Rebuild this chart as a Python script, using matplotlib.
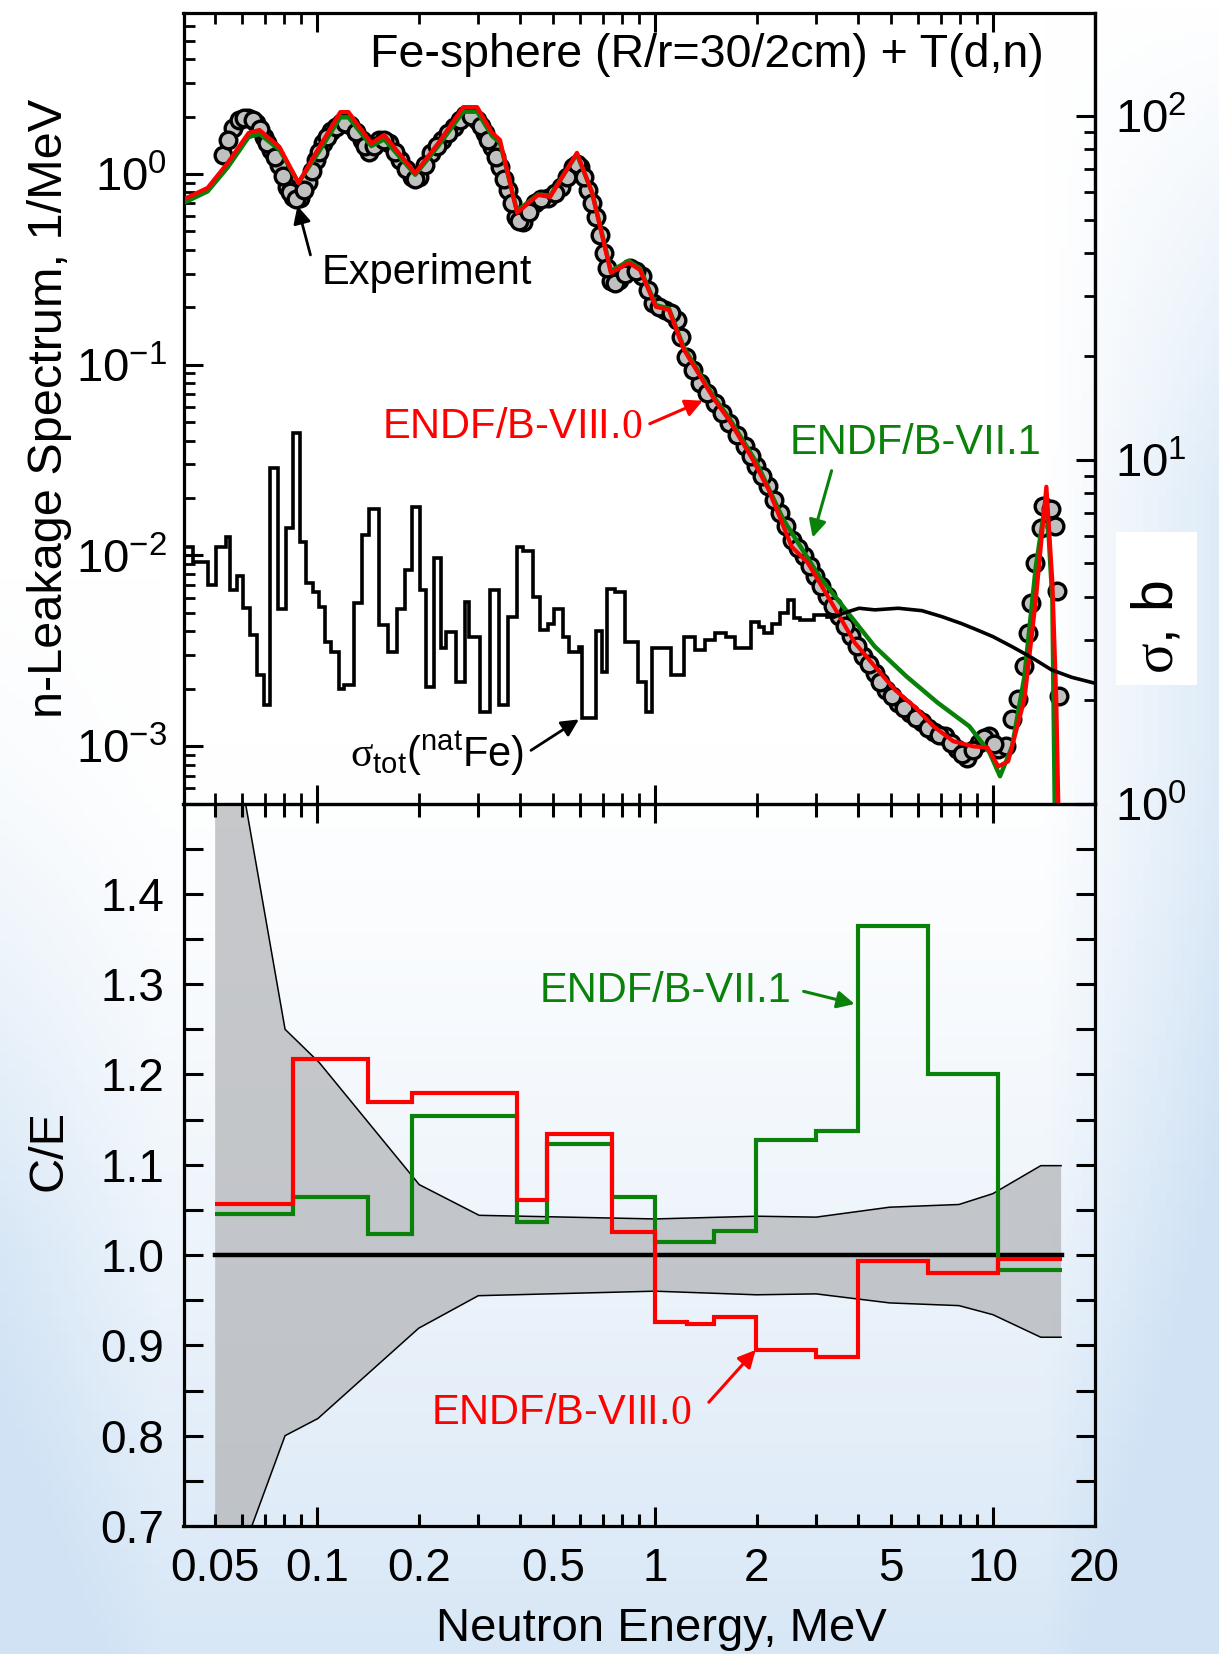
import numpy as np
import matplotlib
matplotlib.use('Agg')
import matplotlib.pyplot as plt
from matplotlib.patches import Rectangle
from matplotlib.ticker import LogLocator, MultipleLocator, FixedLocator, NullFormatter, FuncFormatter

plt.rcParams['font.family'] = ['Liberation Sans', 'DejaVu Sans']
plt.rcParams['mathtext.fontset'] = 'custom'
plt.rcParams['mathtext.rm'] = 'Liberation Serif'
plt.rcParams['mathtext.sf'] = 'Liberation Sans'
plt.rcParams['mathtext.it'] = 'Liberation Sans:italic'
plt.rcParams['mathtext.default'] = 'sf'
plt.rcParams['axes.unicode_minus'] = False

# ---- experiment (n-leakage spectrum, 1/MeV)
exp_e = [0.0529, 0.0565, 0.0587, 0.0627, 0.0662, 0.0696, 0.0733, 0.0772, 0.0814, 0.0847,
         0.0893, 0.0941, 0.0991, 0.1042, 0.1100, 0.1178, 0.1251, 0.1356, 0.1429, 0.1526,
         0.1632, 0.1767, 0.1906, 0.2007, 0.2178, 0.2353, 0.2544, 0.2750, 0.2970, 0.3133,
         0.3304, 0.3483, 0.3674, 0.3875, 0.4075, 0.4406, 0.4824, 0.5285, 0.5714, 0.6024,
         0.6347, 0.6689, 0.7048, 0.7427, 0.7826, 0.8466, 0.9159, 0.9905, 1.072, 1.159,
         1.237, 1.356, 1.506, 1.656, 1.846, 1.998, 2.165, 2.349, 2.544, 2.756,
         2.986, 3.240, 3.509, 3.804, 4.121, 4.465, 4.841, 5.244, 5.683, 6.162,
         6.677, 7.234, 7.848, 8.381, 9.092, 9.718, 10.39, 10.96, 11.41, 11.86,
         12.35, 12.69, 13.01, 13.37, 13.91, 14.10, 14.89, 15.29, 15.51, 15.73]
exp_v = [1.26, 1.74, 1.92, 1.96, 1.84, 1.57, 1.34, 1.11, 0.858, 0.760,
         0.746, 0.912, 1.18, 1.45, 1.67, 1.84, 1.81, 1.51, 1.31, 1.51,
         1.45, 1.18, 0.968, 0.968, 1.28, 1.51, 1.77, 2.04, 1.92, 1.63,
         1.39, 1.09, 0.824, 0.597, 0.562, 0.702, 0.746, 0.858, 1.09, 1.09,
         0.824, 0.597, 0.384, 0.273, 0.278, 0.321, 0.290, 0.210, 0.194, 0.172,
         0.110, 0.080, 0.063, 0.0494, 0.0373, 0.0293, 0.0230, 0.0167, 0.0121, 0.00989,
         0.00777, 0.00611, 0.00480, 0.00377, 0.00296, 0.00242, 0.00198, 0.00169, 0.00150, 0.00133,
         0.00118, 0.00113, 0.000962, 0.000870, 0.00104, 0.00113, 0.000962, 0.00100, 0.00138, 0.00176,
         0.00262, 0.00392, 0.00563, 0.00913, 0.0139, 0.0181, 0.0174, 0.0142, 0.00649, 0.00183]
# further experimental points lying between the ones above
exp2_e = [0.0547, 0.0607, 0.0645, 0.0679, 0.0714, 0.0752, 0.0793, 0.0830, 0.0870, 0.0917,
          0.0966, 0.1016, 0.1071, 0.1139, 0.1214, 0.1302, 0.1392, 0.1477, 0.1578, 0.1698,
          0.1835, 0.1955, 0.2091, 0.2264, 0.2447, 0.2645, 0.2858, 0.3050, 0.3217, 0.3392,
          0.3577, 0.3773, 0.3974, 0.4237, 0.4610, 0.5049, 0.5495, 0.5867, 0.6183, 0.6516,
          0.6866, 0.7235, 0.7624, 0.8140, 0.8806, 0.9525, 1.030, 1.115, 1.197, 1.295,
          1.429, 1.579, 1.749, 1.920, 2.080, 2.255, 2.444, 2.648, 2.869, 3.110,
          3.372, 3.654, 3.959, 4.290, 4.649, 5.038, 5.459, 5.918, 6.414, 6.950,
          7.535, 8.110, 8.729, 9.400, 10.05]
exp2_v = [1.50, 1.97, 1.92, 1.72, 1.45, 1.22, 0.98, 0.80, 0.74, 0.82,
          1.04, 1.31, 1.57, 1.77, 1.86, 1.66, 1.40, 1.40, 1.50, 1.31,
          1.06, 0.94, 1.11, 1.40, 1.64, 1.92, 2.02, 1.78, 1.50, 1.23,
          0.94, 0.70, 0.565, 0.63, 0.735, 0.79, 0.96, 1.13, 0.96, 0.70,
          0.48, 0.32, 0.268, 0.300, 0.310, 0.245, 0.200, 0.186, 0.140, 0.094,
          0.071, 0.056, 0.0430, 0.0330, 0.0260, 0.0196, 0.0142, 0.0109, 0.00880, 0.00690,
          0.00540, 0.00425, 0.00333, 0.00268, 0.00218, 0.00183, 0.00159, 0.00141, 0.00125, 0.00115,
          0.00104, 0.00091, 0.00095, 0.00110, 0.00103]

# ---- ENDF/B-VIII.0 calculation
viii_e = [0.040, 0.0475, 0.0544, 0.0628, 0.0676, 0.0775, 0.0882, 0.1017, 0.1173, 0.124,
          0.1449, 0.1582, 0.1954, 0.2285, 0.271, 0.298, 0.330, 0.348, 0.391, 0.451,
          0.490, 0.588, 0.652, 0.741, 0.838, 0.903, 1.007, 1.10, 1.218, 1.50,
          1.654, 1.948, 2.17, 2.54, 2.83, 3.16, 3.52, 3.90, 4.47, 5.12,
          5.86, 6.67, 7.64, 8.76, 9.63, 10.38, 11.1, 12.4, 13.4, 14.4,
          15.0, 15.4, 15.9]
viii_v = [0.731, 0.845, 1.14, 1.64, 1.70, 1.385, 0.897, 1.385, 2.11, 2.11,
          1.45, 1.60, 1.01, 1.45, 2.24, 2.24, 1.64, 1.51, 0.625, 0.776,
          0.758, 1.29, 0.795, 0.303, 0.342, 0.314, 0.201, 0.194, 0.120, 0.0655,
          0.0515, 0.0318, 0.0221, 0.0111, 0.00917, 0.00662, 0.00478, 0.00349, 0.00262, 0.00198,
          0.00161, 0.00127, 0.00106, 0.000996, 0.000984, 0.000783, 0.000832, 0.00176, 0.00586, 0.0229,
          0.0072, 0.00176, 0.0001]

# ---- ENDF/B-VII.1 calculation
vii_e = [0.040, 0.0475, 0.0544, 0.0628, 0.0676, 0.0775, 0.0882, 0.1017, 0.1173, 0.124,
         0.1449, 0.1582, 0.1954, 0.2285, 0.271, 0.298, 0.330, 0.348, 0.391, 0.451,
         0.490, 0.588, 0.652, 0.741, 0.838, 0.903, 1.007, 1.10, 1.218, 1.50,
         1.654, 2.00, 2.40, 3.07, 3.72, 4.47, 5.55, 6.86, 8.52, 9.77,
         10.5, 11.4, 12.4, 13.4, 14.4, 15.0, 15.4]
vii_v = [0.70, 0.81, 1.08, 1.56, 1.62, 1.34, 0.90, 1.32, 1.98, 1.98,
         1.40, 1.52, 0.99, 1.40, 2.12, 2.12, 1.58, 1.46, 0.64, 0.78,
         0.77, 1.27, 0.80, 0.31, 0.35, 0.32, 0.205, 0.197, 0.123, 0.067,
         0.053, 0.0306, 0.0154, 0.00774, 0.00502, 0.00333, 0.00232, 0.00169, 0.00127, 0.000927,
         0.000695, 0.000996, 0.00232, 0.00874, 0.0203, 0.00586, 0.0001]

# ---- total cross section of natFe (b), group histogram + smooth part
sig_edges = [0.0404, 0.0429, 0.0476, 0.0504, 0.0540, 0.0555, 0.0580, 0.0603, 0.0635, 0.0666,
             0.0696, 0.0728, 0.0767, 0.0808, 0.0847, 0.0893, 0.0928, 0.0971, 0.1012, 0.1058,
             0.1100, 0.1159, 0.1206, 0.1287, 0.1356, 0.1429, 0.1526, 0.1621, 0.1726, 0.1818,
             0.1906, 0.2019, 0.2104, 0.2218, 0.2337, 0.2412, 0.2574, 0.2750, 0.2822, 0.3036,
             0.3259, 0.3459, 0.3665, 0.3914, 0.4068, 0.4346, 0.4579, 0.4824, 0.5017, 0.5355,
             0.5569, 0.5945, 0.6105, 0.6689, 0.6956, 0.7240, 0.7628, 0.8143, 0.8920, 0.9399,
             0.9779, 1.114, 1.221, 1.315, 1.410, 1.506, 1.628, 1.725, 1.920, 2.026,
             2.110, 2.225, 2.349, 2.476, 2.579, 2.685, 2.950, 3.239, 3.419]
sig_levels = [5.59, 5.05, 4.32, 5.59, 5.95, 4.18, 4.60, 3.70, 3.09, 2.37,
              1.93, 9.45, 3.67, 6.32, 12.0, 5.78, 4.37, 4.13, 3.72, 2.96,
              2.76, 2.16, 2.21, 3.82, 6.04, 7.18, 3.31, 2.76, 3.67, 4.78,
              7.31, 4.18, 2.19, 5.17, 2.83, 3.16, 2.26, 3.87, 3.06, 1.85,
              4.18, 1.93, 3.50, 5.59, 5.44, 4.00, 3.20, 3.33, 3.67, 3.06,
              2.76, 2.86, 1.77, 3.18, 2.42, 4.20, 4.13, 2.96, 2.26, 1.85,
              2.83, 2.37, 3.06, 2.80, 2.99, 3.13, 3.06, 2.83, 3.38, 3.27,
              3.13, 3.34, 3.58, 3.91, 3.46, 3.42, 3.53, 3.50]
sig_smooth_e = [3.419, 3.61, 4.02, 4.47, 5.25, 6.17, 7.05, 8.07, 8.98, 10.0, 11.4, 13.1, 14.9, 17.1, 20.0]
sig_smooth_v = [3.50, 3.58, 3.70, 3.66, 3.70, 3.64, 3.50, 3.34, 3.20, 3.06, 2.86, 2.65, 2.45, 2.33, 2.24]

# ---- C/E group ratios
ce_edges = [0.05, 0.0848, 0.1413, 0.191, 0.392, 0.481, 0.748, 1.0, 1.248, 1.497, 1.994, 3.0, 4.0, 6.44, 10.38, 16.03]
ce_viii = [1.056, 1.217, 1.170, 1.180, 1.061, 1.134, 1.025, 0.926, 0.924, 0.931, 0.895, 0.8875, 0.993, 0.980, 0.996]
ce_vii = [1.045, 1.064, 1.023, 1.154, 1.037, 1.123, 1.064, 1.015, 1.015, 1.027, 1.127, 1.137, 1.364, 1.200, 0.983]

# experimental uncertainty band
band_hi_e = [0.05, 0.0615, 0.0805, 0.1017, 0.2008, 0.302, 1.0, 2.0, 3.0, 4.95, 7.94, 10.0, 13.86, 15.92]
band_hi = [1.69, 1.50, 1.25, 1.213, 1.078, 1.044, 1.040, 1.043, 1.042, 1.053, 1.056, 1.068, 1.099, 1.099]
band_lo_e = [0.05, 0.0642, 0.0805, 0.1007, 0.2001, 0.3003, 1.0, 2.0, 3.0, 4.95, 7.94, 10.0, 13.86, 15.92]
band_lo = [0.59, 0.70, 0.80, 0.819, 0.919, 0.955, 0.960, 0.956, 0.957, 0.947, 0.944, 0.934, 0.909, 0.909]

RED = '#ff0000'
GREEN = '#0a820a'
FS = 30      # annotations
TFS = 33     # tick labels
LFS = 35     # axis labels

fig = plt.figure(figsize=(12.19, 16.54), dpi=100)

# soft blue background like the slide
bg = fig.add_axes([0, 0, 1, 1], zorder=-5)
yy, xx = np.mgrid[0:1:220j, 0:1:160j]
w = 0.85 * np.clip((yy - 0.45) / 0.55, 0, 1) ** 1.3
w += 0.7 * np.clip((xx - 0.86) / 0.14, 0, 1) * np.clip(yy / 0.3, 0, 1)
w += 0.45 * np.clip((0.13 - xx) / 0.13, 0, 1) * np.clip((yy - 0.35) / 0.4, 0, 1)
w = np.clip(w, 0, 1)[..., None]
blue = np.array([0.82, 0.89, 0.96])
bg.imshow((1 - w) * 1.0 + w * blue, aspect='auto', extent=[0, 1, 0, 1])
bg.axis('off')

L, R = 183.5 / 1219, 1094.6 / 1219
ax1 = fig.add_axes([L, 0.5142, R - L, 0.4781])
ax2 = fig.add_axes([L, 0.0774, R - L, 0.4368], sharex=ax1)
for a in (ax1, ax2):
    a.set_facecolor('none')
    for s in a.spines.values():
        s.set_linewidth(2.3)

# ---------------- top panel
ax1.set_xscale('log')
ax1.set_yscale('log')
ax1.set_xlim(0.0403, 20)
ax1.set_ylim(5.0e-4, 7.0)

ax1.plot(exp_e + exp2_e, exp_v + exp2_v, 'o', ms=12, mfc='#c0c0c0', mec='black', mew=2.4, zorder=2)
ax1.plot(vii_e, vii_v, color=GREEN, lw=3.2, zorder=3)
ax1.plot(viii_e, viii_v, color=RED, lw=3.0, zorder=4)

ax1r = ax1.twinx()
ax1r.set_yscale('log')
ax1r.set_ylim(1, 200)
ax1r.stairs(sig_levels, sig_edges, color='black', lw=2.6, baseline=None)
ax1r.plot(sig_smooth_e, sig_smooth_v, color='black', lw=2.6)
ax1r.spines['right'].set_linewidth(2.3)

for a in (ax1, ax1r):
    a.tick_params(which='major', direction='in', length=14, width=2.2, labelsize=TFS + 1)
    a.tick_params(which='minor', direction='in', length=8, width=2.0)
ax1.tick_params(axis='x', which='both', top=True, bottom=True, labelbottom=False)
ax1.tick_params(axis='y', pad=12)
ax1.yaxis.set_major_locator(LogLocator(base=10, numticks=10))
ax1.yaxis.set_minor_locator(LogLocator(base=10, subs=np.arange(2, 10), numticks=20))
ax1.yaxis.set_minor_formatter(NullFormatter())
ax1r.yaxis.set_major_locator(LogLocator(base=10, numticks=10))
ax1r.yaxis.set_minor_locator(LogLocator(base=10, subs=np.arange(2, 10), numticks=20))
ax1r.yaxis.set_minor_formatter(NullFormatter())
ax1r.tick_params(axis='y', pad=15)

ax1.set_ylabel('n-Leakage Spectrum, 1/MeV', fontsize=LFS)
ax1.yaxis.set_label_coords(-0.1224, 0.5)

ax1.text(0.944, 0.9465, 'Fe-sphere (R/r=30/2cm) + T(d,n)', transform=ax1.transAxes,
         ha='right', va='center', fontsize=33.5)
ax1.text(0.1031, 0.303, 'Experiment', ha='left', va='center', fontsize=FS)
ax1.annotate('', xy=(0.0876, 0.68), xytext=(0.0957, 0.376),
             arrowprops=dict(arrowstyle='-|>', color='black', lw=2, mutation_scale=26, shrinkA=0, shrinkB=0))
ax1.text(0.915, 0.0473, r'ENDF/B-VIII.$\mathrm{0}$', ha='right', va='center', fontsize=FS, color=RED)
ax1.annotate('', xy=(1.386, 0.0647), xytext=(0.966, 0.049),
             arrowprops=dict(arrowstyle='-|>', color=RED, lw=2.2, mutation_scale=26, shrinkA=0, shrinkB=0))
ax1.text(2.505, 0.039, 'ENDF/B-VII.1', ha='left', va='center', fontsize=FS, color=GREEN)
ax1.annotate('', xy=(2.93, 0.0124), xytext=(3.333, 0.0278),
             arrowprops=dict(arrowstyle='-|>', color=GREEN, lw=2.2, mutation_scale=26, shrinkA=0, shrinkB=0))
ax1.text(0.1256, 0.000916, r'$\mathrm{\sigma}_{tot}(^{nat}Fe)$', ha='left', va='center', fontsize=FS)
ax1.annotate('', xy=(0.596, 0.00138), xytext=(0.43, 0.00095),
             arrowprops=dict(arrowstyle='-|>', color='black', lw=2, mutation_scale=26, shrinkA=0, shrinkB=0))

# white box behind the right-axis title, as in the original
fig.patches.append(Rectangle((1116 / 1219, 1 - 685 / 1654), 81 / 1219, 153 / 1654,
                             transform=fig.transFigure, facecolor='white', edgecolor='none', zorder=5))
fig.text(1157 / 1219, 1 - 627 / 1654, r'$\mathrm{\sigma}$, b', rotation=90,
         ha='center', va='center', fontsize=41, zorder=6)

# ---------------- bottom panel
ax2.set_ylim(0.7, 1.5)
poly_x = band_hi_e + band_lo_e[::-1]
poly_y = band_hi + band_lo[::-1]
ax2.fill(poly_x, poly_y, color='#b4b6b9', alpha=0.75, lw=0, zorder=1)
ax2.plot(band_hi_e, band_hi, color='black', lw=1.1, zorder=2)
ax2.plot(band_lo_e, band_lo, color='black', lw=1.1, zorder=2)
ax2.plot([ce_edges[0], ce_edges[-1]], [1.0, 1.0], color='black', lw=3.2, zorder=3)
ax2.stairs(ce_vii, ce_edges, color=GREEN, lw=3.0, baseline=None, zorder=4)
ax2.stairs(ce_viii, ce_edges, color=RED, lw=3.0, baseline=None, zorder=5)

ax2.xaxis.set_major_locator(LogLocator(base=10, numticks=10))
ax2.xaxis.set_minor_locator(LogLocator(base=10, subs=np.arange(2, 10), numticks=30))
ax2.xaxis.set_major_formatter(FuncFormatter(lambda v, p: '%g' % v))
shown = (0.05, 0.2, 0.5, 2, 5, 20)
ax2.xaxis.set_minor_formatter(FuncFormatter(
    lambda v, p: ('%g' % v) if any(abs(v - s) / s < 1e-3 for s in shown) else ''))
ax2.yaxis.set_major_locator(FixedLocator([0.7, 0.8, 0.9, 1.0, 1.1, 1.2, 1.3, 1.4]))
ax2.yaxis.set_minor_locator(MultipleLocator(0.05))
ax2.yaxis.set_major_formatter(FuncFormatter(lambda v, p: '%.1f' % v))

ax2.tick_params(which='both', direction='in', top=True, right=True, width=2.2, labelsize=TFS)
ax2.tick_params(axis='x', which='major', length=14, pad=15)
ax2.tick_params(axis='x', which='minor', length=9, pad=15, labelsize=TFS)
ax2.tick_params(axis='y', which='both', length=14, pad=14)

ax2.set_xlim(0.0403, 20)
ax2.set_ylabel('C/E', fontsize=LFS)
ax2.yaxis.set_label_coords(-0.1224, 0.52)
ax2.set_xlabel('Neutron Energy, MeV', fontsize=LFS - 1)
ax2.xaxis.set_label_coords(0.525, -0.112)

ax2.text(2.54, 1.292, 'ENDF/B-VII.1', ha='right', va='center', fontsize=FS, color=GREEN)
ax2.annotate('', xy=(3.90, 1.278), xytext=(2.755, 1.292),
             arrowprops=dict(arrowstyle='-|>', color=GREEN, lw=2.2, mutation_scale=26, shrinkA=0, shrinkB=0))
ax2.text(0.218, 0.825, r'ENDF/B-VIII.$\mathrm{0}$', ha='left', va='center', fontsize=FS, color=RED)
ax2.annotate('', xy=(1.988, 0.895), xytext=(1.444, 0.837),
             arrowprops=dict(arrowstyle='-|>', color=RED, lw=2.2, mutation_scale=26, shrinkA=0, shrinkB=0))

fig.savefig('out.png', dpi=100)
